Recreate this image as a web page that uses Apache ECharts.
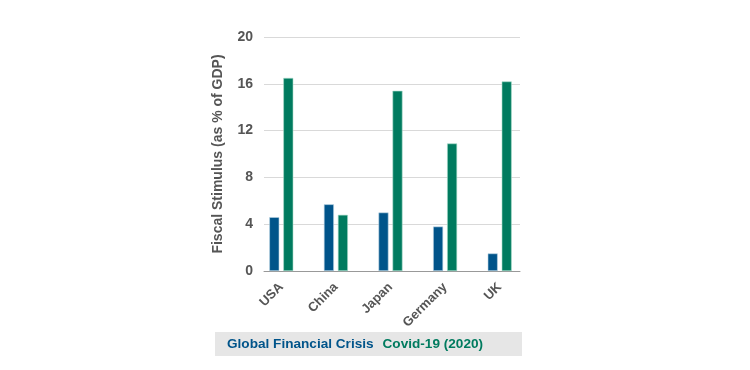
<!DOCTYPE html>
<html><head><meta charset="utf-8">
<script src="https://cdn.jsdelivr.net/npm/echarts@6/dist/echarts.min.js"></script>
<style>html,body{margin:0;padding:0;background:#fff}#c{width:750px;height:370px}</style>
</head><body><div id="c"></div>
<script>
const categories = ['USA', 'China', 'Japan', 'Germany', 'UK'];
const gfcValues = [4.6, 5.7, 5.0, 3.8, 1.5];
const covidValues = [16.5, 4.8, 15.4, 10.9, 16.2];
const seriesNames = ['Global Financial Crisis', 'Covid-19 (2020)'];
const yTicks = [0, 4, 8, 12, 16, 20];

const BLUE = '#00548a', GREEN = '#007b5f', GRAY = '#555555';
const FONT = 'Liberation Sans';
const chart = echarts.init(document.getElementById('c'), null, {renderer: 'canvas'});
chart.setOption({
  animation: false,
  textStyle: {fontFamily: FONT},
  legend: {
    data: [
      {name: seriesNames[0], textStyle: {color: BLUE}},
      {name: seriesNames[1], textStyle: {color: GREEN}}
    ],
    left: 215, top: 332,
    icon: 'none', itemWidth: 0, itemHeight: 10, itemGap: 4,
    padding: [5, 39, 5, 7],
    backgroundColor: '#e6e6e6',
    selectedMode: false,
    textStyle: {fontSize: 13.6, fontWeight: 'bold', fontFamily: FONT}
  },
  grid: [
    {left: 254, right: 223, top: 37, bottom: 99},
    {left: 264, right: 230, top: 37, bottom: 99}
  ],
  xAxis: [
    {type: 'category', gridIndex: 0, data: categories,
     axisLine: {show: false}, axisTick: {show: false},
     axisLabel: {rotate: 45, color: GRAY, fontSize: 13, fontWeight: 'bold', margin: 14, interval: 0}},
    {type: 'category', gridIndex: 1, data: [''],
     axisLine: {show: true, lineStyle: {color: '#999', width: 1}}, axisTick: {show: false},
     axisLabel: {show: false}}
  ],
  yAxis: [
    {type: 'value', gridIndex: 0, min: 0, max: 20, interval: 4,
     axisLabel: {show: false}, splitLine: {show: false}, axisLine: {show: false}, axisTick: {show: false}},
    {type: 'value', gridIndex: 1, min: yTicks[0], max: yTicks[yTicks.length - 1], interval: yTicks[1] - yTicks[0],
     name: 'Fiscal Stimulus (as % of GDP)', nameLocation: 'middle', nameGap: 39, nameRotate: 90,
     nameTextStyle: {color: GRAY, fontSize: 14, fontWeight: 'bold', fontFamily: FONT},
     axisLabel: {color: GRAY, fontSize: 14, fontWeight: 'bold', margin: 11},
     axisLine: {show: false}, axisTick: {show: false},
     splitLine: {lineStyle: {color: '#d9d9d9', width: 1}}}
  ],
  series: [
    {name: seriesNames[0], type: 'bar', xAxisIndex: 0, yAxisIndex: 0, data: gfcValues,
     barWidth: 10, barGap: '40%', itemStyle: {color: BLUE, borderColor: '#b9d3e3', borderWidth: 0.6}},
    {name: seriesNames[1], type: 'bar', xAxisIndex: 0, yAxisIndex: 0, data: covidValues,
     barWidth: 10, itemStyle: {color: GREEN, borderColor: '#a9dccb', borderWidth: 0.6}}
  ]
});
</script></body></html>
